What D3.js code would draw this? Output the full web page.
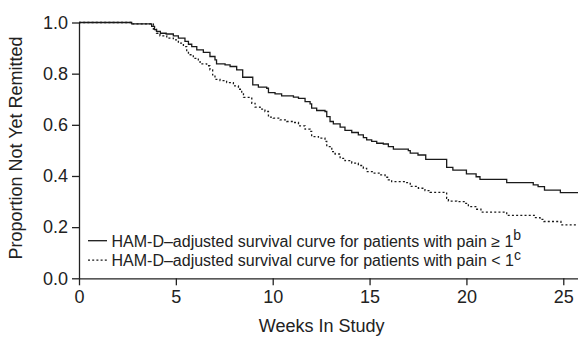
<!DOCTYPE html>
<html>
<head>
<meta charset="utf-8">
<script src="https://cdn.jsdelivr.net/npm/d3@7"></script>
<style>
  body { margin: 0; background: #fff; }
  text { font-family: Arial, "Liberation Sans", Helvetica, sans-serif; fill: #222; }
</style>
</head>
<body>
<script>
// step points (week, proportion)
var painHighWeeks = [0, 2.72, 3.75, 3.9, 4.0, 4.2, 4.5, 4.87, 5.13, 5.47, 5.65, 5.82, 6.08, 6.42, 6.76, 7.02, 7.1, 7.54, 7.8, 8.14, 8.45, 8.97, 9.26, 9.69, 9.78, 10.12, 10.46, 11.07, 11.33, 11.67, 11.93, 12.01, 12.27, 12.7, 12.79, 12.96, 13.13, 13.48, 13.73, 14.08, 14.42, 14.68, 14.85, 15.11, 15.37, 15.71, 15.97, 16.23, 17.0, 17.1, 17.5, 17.9, 18.98, 19.3, 20.0, 20.5, 20.7, 22.08, 23.45, 23.7, 24.03, 24.85];
var painHighSurv  = [1.0, 0.995, 0.985, 0.972, 0.965, 0.958, 0.955, 0.948, 0.939, 0.926, 0.915, 0.906, 0.893, 0.883, 0.867, 0.854, 0.838, 0.834, 0.828, 0.815, 0.786, 0.756, 0.747, 0.743, 0.726, 0.721, 0.713, 0.708, 0.703, 0.691, 0.682, 0.665, 0.656, 0.652, 0.632, 0.613, 0.604, 0.591, 0.578, 0.570, 0.561, 0.550, 0.541, 0.535, 0.528, 0.525, 0.515, 0.505, 0.499, 0.489, 0.482, 0.465, 0.434, 0.423, 0.408, 0.397, 0.387, 0.374, 0.365, 0.358, 0.345, 0.335];

var painLowWeeks = [0, 2.72, 3.84, 4.0, 4.18, 4.53, 4.87, 5.13, 5.39, 5.56, 5.65, 5.9, 6.16, 6.25, 6.59, 6.76, 6.9, 7.02, 7.28, 7.62, 7.97, 8.23, 8.4, 8.49, 8.83, 8.92, 9.09, 9.35, 9.6, 9.78, 10.03, 10.38, 10.72, 11.07, 11.33, 11.67, 11.93, 12.01, 12.36, 12.7, 12.79, 13.05, 13.22, 13.48, 13.73, 14.08, 14.42, 14.68, 14.85, 15.2, 15.54, 15.8, 15.97, 16.14, 16.92, 17.1, 17.52, 17.86, 18.12, 18.98, 19.07, 19.5, 19.93, 20.1, 20.53, 20.75, 22.08, 23.5, 23.8, 24.0, 24.88];
var painLowSurv  = [1.0, 0.995, 0.974, 0.958, 0.948, 0.939, 0.932, 0.919, 0.906, 0.887, 0.874, 0.860, 0.847, 0.838, 0.831, 0.815, 0.795, 0.778, 0.773, 0.765, 0.752, 0.739, 0.724, 0.707, 0.704, 0.684, 0.669, 0.661, 0.652, 0.630, 0.626, 0.619, 0.613, 0.609, 0.596, 0.583, 0.574, 0.554, 0.548, 0.535, 0.515, 0.495, 0.486, 0.469, 0.460, 0.450, 0.441, 0.430, 0.417, 0.411, 0.404, 0.395, 0.385, 0.378, 0.374, 0.359, 0.352, 0.343, 0.336, 0.313, 0.302, 0.300, 0.293, 0.280, 0.270, 0.259, 0.246, 0.237, 0.230, 0.222, 0.209];

var xTicks = [0, 5, 10, 15, 20, 25];
var yTicks = [0, 0.2, 0.4, 0.6, 0.8, 1.0];
var legendLabels = [
    ["HAM-D\u2013adjusted survival curve for patients with pain \u2265 1", "b"],
    ["HAM-D\u2013adjusted survival curve for patients with pain < 1", "c"]
];
var xMax = 25.76;

var w = 578, h = 337;

var svg = d3.select("body").append("svg")
    .attr("width", w)
    .attr("height", h);

var xScale = d3.scaleLinear().domain([0, xMax]).range([79, 578]);
var yScale = d3.scaleLinear().domain([0, 1]).range([278.3, 22.5]);

// make the series into point lists, last step runs to the edge
function toPoints(weeks, surv) {
    var pts = weeks.map(function (d, i) { return [d, surv[i]]; });
    pts.push([xMax, surv[surv.length - 1]]);
    return pts;
}

var line = d3.line()
    .x(function (d) { return xScale(d[0]); })
    .y(function (d) { return yScale(d[1]); })
    .curve(d3.curveStepAfter);

// x axis
var xAxis = svg.append("g")
    .attr("transform", "translate(0,278.3)")
    .call(d3.axisBottom(xScale).tickValues(xTicks).tickSize(7).tickSizeOuter(0).tickPadding(5)
        .tickFormat(d3.format("d")));
xAxis.selectAll("text").style("font-size", "18px");

// y axis
var yAxis = svg.append("g")
    .attr("transform", "translate(79,0)")
    .call(d3.axisLeft(yScale).tickValues(yTicks).tickSize(7).tickSizeOuter(0).tickPadding(4)
        .tickFormat(d3.format(".1f")));
yAxis.selectAll("text").style("font-size", "18px");

svg.selectAll(".domain, .tick line").attr("stroke", "#222").attr("stroke-width", 1.3);

// curves
svg.append("path")
    .datum(toPoints(painHighWeeks, painHighSurv))
    .attr("d", line)
    .attr("fill", "none")
    .attr("stroke", "#1a1a1a")
    .attr("stroke-width", 1.3);

svg.append("path")
    .datum(toPoints(painLowWeeks, painLowSurv))
    .attr("d", line)
    .attr("fill", "none")
    .attr("stroke", "#1a1a1a")
    .attr("stroke-width", 1.3)
    .attr("stroke-dasharray", "2,2.2");

// legend
var legend = svg.selectAll(".legend")
    .data(legendLabels)
    .enter().append("g")
    .attr("class", "legend")
    .attr("transform", function (d, i) { return "translate(0," + (240.7 + i * 19.5) + ")"; });

legend.append("line")
    .attr("x1", 88).attr("x2", 107)
    .attr("stroke", "#1a1a1a")
    .attr("stroke-width", 1.3)
    .attr("stroke-dasharray", function (d, i) { return i == 0 ? null : "2,2.2"; });

var lt = legend.append("text")
    .attr("x", 111.5)
    .attr("y", 6)
    .style("font-size", "16px");
lt.append("tspan").text(function (d) { return d[0]; });
lt.append("tspan")
    .attr("dy", -6.5)
    .style("font-size", "14px")
    .text(function (d) { return d[1]; });

// axis titles
svg.append("text")
    .attr("x", 321.7)
    .attr("y", 332)
    .style("text-anchor", "middle")
    .style("font-size", "18px")
    .text("Weeks In Study");

svg.append("text")
    .attr("transform", "translate(21.5,148) rotate(-90)")
    .style("text-anchor", "middle")
    .style("font-size", "18px")
    .text("Proportion Not Yet Remitted");
</script>
</body>
</html>
